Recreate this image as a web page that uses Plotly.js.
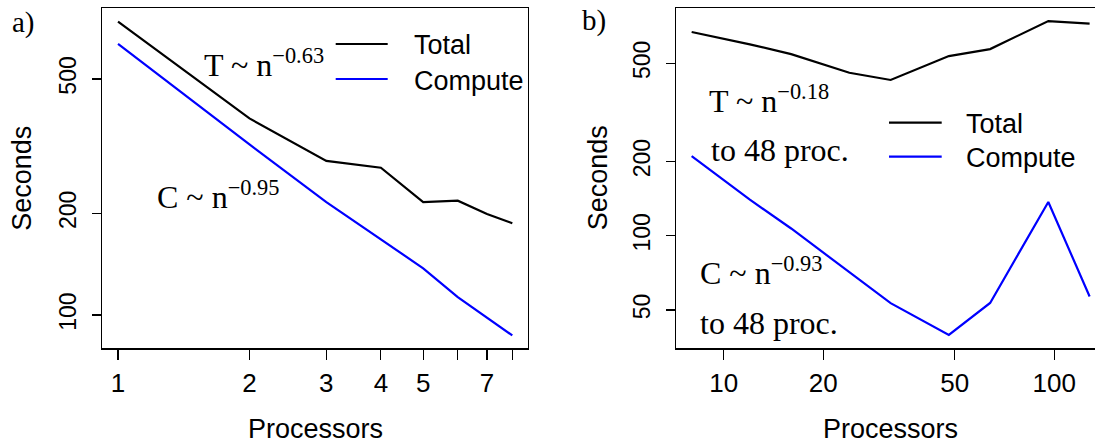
<!DOCTYPE html>
<html>
<head>
<meta charset="utf-8">
<script src="https://cdn.plot.ly/plotly-3.0.1.min.js"></script>
<style>
  html, body { margin: 0; padding: 0; background: #ffffff; overflow: hidden; }
  #chart { width: 1095px; height: 443px; }
</style>
</head>
<body>
<div id="chart"></div>
<script>
// ---- data ----
var procA = [1, 2, 3, 4, 5, 6, 7, 8];
var totalA = [739, 382, 286, 273, 216, 218, 199, 187];
var computeA = [635, 320, 216, 167.5, 137.5, 113, 98, 87];

var procB = [8, 12, 16, 24, 32, 48, 64, 96, 128];
var totalB = [670, 597, 545, 458, 428, 535, 571, 742, 724];
var computeB = [210, 140, 107, 71.4, 53.3, 39.6, 53.4, 137, 56.7];

var tickValsXA = [1, 2, 3, 4, 5, 7];
var minorTickValsXA = [6, 8];
var tickValsYA = [100, 200, 500];
var tickValsXB = [10, 20, 50, 100];
var tickValsYB = [50, 100, 200, 500];

var seriesNames = ['Total', 'Compute'];
var seriesColors = ['#000000', '#0000ff'];

// ---- layout helpers ----
var W = 1095, H = 443;
function px(x) { return x / W; }
function py(y) { return 1 - y / H; }

var SANS = 'Liberation Sans, Arial, sans-serif';
var SERIF = 'Liberation Serif, Times New Roman, serif';

var traces = [
  {x: procA, y: totalA, xaxis: 'x', yaxis: 'y', name: seriesNames[0], mode: 'lines', line: {color: seriesColors[0], width: 2.2}},
  {x: procA, y: computeA, xaxis: 'x', yaxis: 'y', name: seriesNames[1], mode: 'lines', line: {color: seriesColors[1], width: 2.2}},
  {x: procB, y: totalB, xaxis: 'x2', yaxis: 'y2', name: seriesNames[0], mode: 'lines', line: {color: seriesColors[0], width: 2.2}},
  {x: procB, y: computeB, xaxis: 'x2', yaxis: 'y2', name: seriesNames[1], mode: 'lines', line: {color: seriesColors[1], width: 2.2}}
];

function axisBase(extra) {
  var a = {
    type: 'log', showgrid: false, zeroline: false,
    showline: true, linecolor: '#000000', linewidth: 1.2,
    ticks: 'outside', tickcolor: '#000000', tickwidth: 1.2,
    tickmode: 'array', fixedrange: true,
    tickfont: {family: SANS, size: 26, color: '#000000'}
  };
  for (var k in extra) a[k] = extra[k];
  return a;
}

var yDomain = [py(348.3), py(8.3)];

var layout = {
  width: W, height: H,
  margin: {l: 0, r: 0, t: 0, b: 0, pad: 0},
  paper_bgcolor: '#ffffff', plot_bgcolor: '#ffffff',
  showlegend: false,
  xaxis: axisBase({domain: [px(102.3), px(528)], range: [-0.036, 0.939], tickvals: tickValsXA, ticktext: tickValsXA.map(String), ticklen: 10, mirror: true, anchor: 'y', ticklabelstandoff: 1,
    minor: {tickmode: 'array', tickvals: minorTickValsXA, ticks: 'outside', ticklen: 10, tickcolor: '#000000', tickwidth: 1.2, showgrid: false}}),
  yaxis: axisBase({domain: yDomain, range: [1.9015, 2.908], tickvals: tickValsYA, ticktext: tickValsYA.map(String), ticklen: 9, tickangle: -90, mirror: true, anchor: 'x', tickfont: {family: SANS, size: 23, color: '#000000'}, ticklabelstandoff: 7}),
  xaxis2: axisBase({domain: [px(676), 1], range: [0.8557, 2.1235], tickvals: tickValsXB, ticktext: tickValsXB.map(String), ticklen: 10, mirror: true, anchor: 'y2', ticklabelstandoff: 1}),
  yaxis2: axisBase({domain: yDomain, range: [1.5436, 2.922], tickvals: tickValsYB, ticktext: tickValsYB.map(String), ticklen: 9, tickangle: -90, mirror: false, anchor: 'x2', tickfont: {family: SANS, size: 23, color: '#000000'}, ticklabelstandoff: 7}),
  shapes: [
    // legend panel a
    {type: 'line', xref: 'paper', yref: 'paper', x0: px(335.7), x1: px(387.7), y0: py(44), y1: py(44), line: {color: seriesColors[0], width: 2.2}},
    {type: 'line', xref: 'paper', yref: 'paper', x0: px(335.7), x1: px(387.7), y0: py(79), y1: py(79), line: {color: seriesColors[1], width: 2.2}},
    // legend panel b
    {type: 'line', xref: 'paper', yref: 'paper', x0: px(889), x1: px(941.7), y0: py(122.7), y1: py(122.7), line: {color: seriesColors[0], width: 2.2}},
    {type: 'line', xref: 'paper', yref: 'paper', x0: px(889), x1: px(941.7), y0: py(156.7), y1: py(156.7), line: {color: seriesColors[1], width: 2.2}}
  ],
  annotations: []
};

function ann(text, x, y, font, xanchor) {
  layout.annotations.push({
    text: text, xref: 'paper', yref: 'paper', x: px(x), y: py(y),
    xanchor: xanchor || 'left', yanchor: 'middle', showarrow: false,
    font: font, borderpad: 0
  });
}
var fSans = {family: SANS, size: 27, color: '#000000'};
var fSerif = {family: SERIF, size: 32, color: '#000000'};
var fLabel = {family: SERIF, size: 29, color: '#000000'};

// panel labels
ann('a)', 11, 22, fLabel);
ann('b)', 581, 21, fLabel);

// legend texts
ann(seriesNames[0], 413, 45, fSans);
ann(seriesNames[1], 413, 81, fSans);
ann(seriesNames[0], 965, 124, fSans);
ann(seriesNames[1], 965, 158, fSans);

// fit annotations
ann('T ~ n<sup>\u22120.63</sup>', 203, 63, fSerif);
ann('C ~ n<sup>\u22120.95</sup>', 156, 195, fSerif);
ann('T ~ n<sup>\u22120.18</sup>', 708, 99, fSerif);
ann('to 48 proc.', 710, 150, fSerif);
ann('C ~ n<sup>\u22120.93</sup>', 699, 271, fSerif);
ann('to 48 proc.', 699, 323, fSerif);

// axis titles
ann('Seconds', 22.5, 178.3, fSans, 'center');
layout.annotations[layout.annotations.length - 1].textangle = -90;
ann('Seconds', 598, 178.3, fSans, 'center');
layout.annotations[layout.annotations.length - 1].textangle = -90;
ann('Processors', 315, 429, fSans, 'center');
ann('Processors', 890, 429, fSans, 'center');

Plotly.newPlot('chart', traces, layout, {staticPlot: true, displayModeBar: false});
</script>
</body>
</html>
